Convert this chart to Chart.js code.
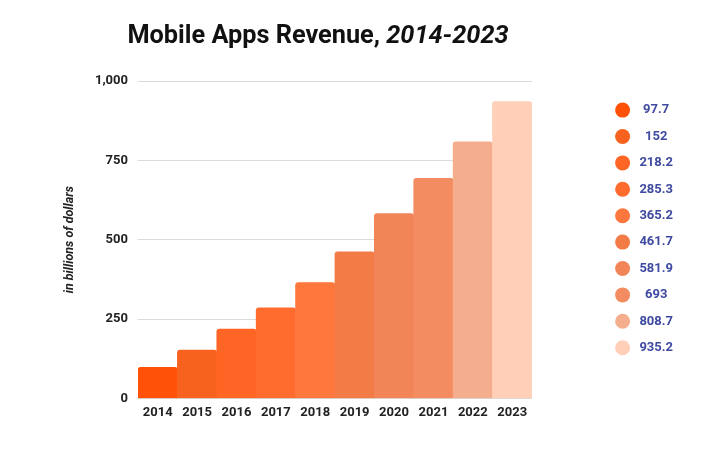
<!DOCTYPE html>
<html>
<head>
<meta charset="utf-8">
<script src="https://cdn.jsdelivr.net/npm/chart.js@4.4.1/dist/chart.umd.min.js"></script>
<style>
	html, body { margin: 0; padding: 0; background: #fff; }
	#wrap { position: relative; width: 725px; height: 476px; }
	#titulo { position: absolute; left: 0; top: 20px; width: 636px; text-align: center; font-family: Roboto, sans-serif; font-weight: 700; font-size: 25.3px; color: #111; }
	#titulo i { font-style: italic; }
</style>
</head>
<body>
<div id="wrap">
	<div id="titulo">Mobile Apps Revenue, <i>2014-2023</i></div>
	<canvas id="receita" width="725" height="476"></canvas>
</div>
<script>
	var anos = ["2014", "2015", "2016", "2017", "2018", "2019", "2020", "2021", "2022", "2023"];
	var receita = [97.7, 152, 218.2, 285.3, 365.2, 461.7, 581.9, 693, 808.7, 935.2];
	var cores = ["#ff5208", "#f7631f", "#ff6525", "#ff6c2e", "#fe773d", "#f27b46", "#f28558", "#f38c60", "#f4ae8e", "#ffcfb8"];
	var yTicks = [0, 250, 500, 750, 1000];

	var ctx = document.getElementById("receita").getContext('2d');
	Chart.defaults.font.family = "Roboto, sans-serif";

	var grafico = new Chart(ctx, {
		type: 'bar',
		data: {
			labels: anos,
			datasets: [{
				label: 'Revenue',
				data: receita,
				backgroundColor: cores,
				borderWidth: 0,
				borderRadius: 3,
				categoryPercentage: 1,
				barPercentage: 1
			}]
		},
		options: {
			responsive: false,
			animation: false,
			layout: { padding: { top: 81, left: 0, right: 47, bottom: 48 } },
			plugins: {
				tooltip: { enabled: false },
				legend: {
					position: 'right',
					align: 'start',
					title: { display: true, text: '', font: { size: 1 }, padding: { top: 8, bottom: 0 } },
					labels: {
						usePointStyle: true,
						boxHeight: 10.6,
						boxWidth: 10.6,
						padding: 13.4,
						textAlign: 'center',
						color: '#3f4aa0',
						font: { size: 13, weight: 'bold' },
						generateLabels: (chart) => receita.map((v, i) => ({
							text: String(v),
							fillStyle: cores[i],
							strokeStyle: cores[i],
							lineWidth: 0,
							pointStyle: 'circle',
							fontColor: '#3f4aa0',
							hidden: false,
							index: i
						}))
					}
				}
			},
			scales: {
				x: {
					grid: { display: false, drawTicks: false },
					border: { display: true, color: '#d9d9d9' },
					ticks: { color: '#222', padding: 7, font: { size: 13, weight: 'bold' } }
				},
				y: {
					min: 0,
					max: 1000,
					afterBuildTicks: (s) => { s.ticks = yTicks.map(v => ({ value: v })); },
					afterFit: (s) => { s.width = 138; },
					grid: { color: '#dadada', drawTicks: false },
					border: { display: false },
					ticks: { color: '#222', padding: 10, font: { size: 13, weight: 'bold' } },
					title: {
						display: true,
						text: 'in billions of dollars',
						color: '#222',
						padding: { top: 62, bottom: 0 },
						font: { size: 12.5, style: 'italic', weight: 'bold' }
					}
				},
				espaco: {
					position: 'right',
					display: true,
					grid: { display: false },
					border: { display: false },
					ticks: { display: false },
					afterFit: (s) => { s.width = 72; }
				}
			}
		}
	});
</script>
</body>
</html>
